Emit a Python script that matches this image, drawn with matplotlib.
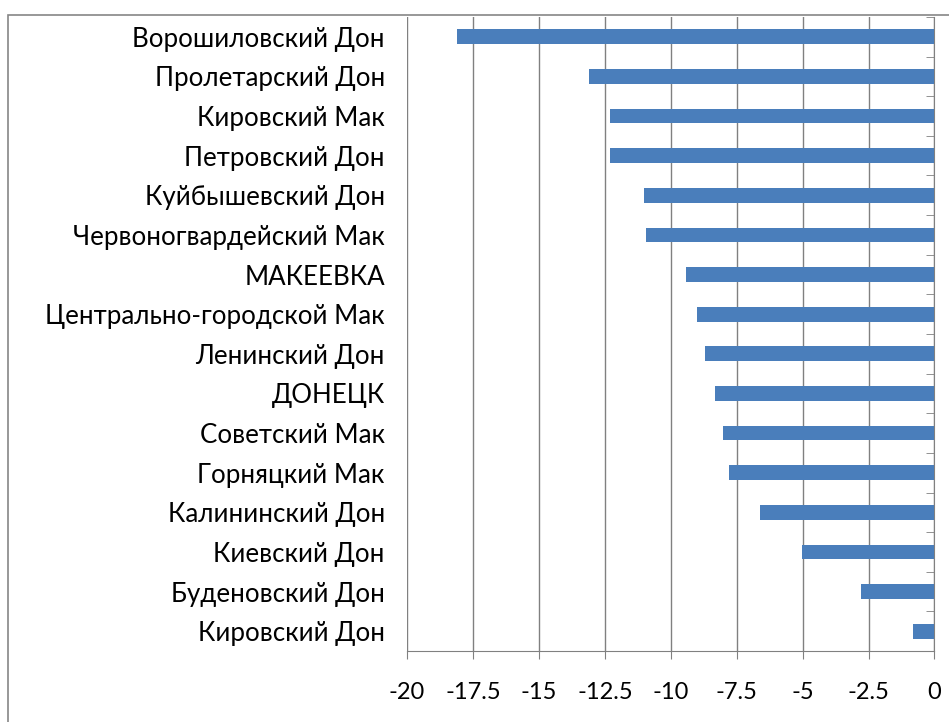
#!/usr/bin/env python3
# -*- coding: utf-8 -*-

import numpy as np
import matplotlib
matplotlib.use('Agg')
from matplotlib import pyplot as plt
from matplotlib.patches import Rectangle

# datos
categorias = [
  'Ворошиловский Дон', 'Пролетарский Дон', 'Кировский Мак', 'Петровский Дон',
  'Куйбышевский Дон', 'Червоногвардейский Мак', 'МАКЕЕВКА',
  'Центрально-городской Мак', 'Ленинский Дон', 'ДОНЕЦК', 'Советский Мак',
  'Горняцкий Мак', 'Калининский Дон', 'Киевский Дон', 'Буденовский Дон',
  'Кировский Дон'
]
valores = [
  -18.12, -13.10, -12.32, -12.32, -11.00, -10.93, -9.41, -9.02, -8.71,
  -8.34, -8.01, -7.80, -6.62, -5.01, -2.79, -0.83
]
xticks = [-20, -17.5, -15, -12.5, -10, -7.5, -5, -2.5, 0]
xtick_labels = ['-20', '-17.5', '-15', '-12.5', '-10', '-7.5', '-5', '-2.5', '0']

plt.rcParams['font.family'] = ['Lato', 'DejaVu Sans']

fig = plt.figure(figsize=(9.49, 7.22), dpi=100)
ax = fig.add_axes([0.4289, 0.0983, 0.9847 - 0.4289, 0.9765 - 0.0983])

y = np.arange(len(categorias))
ax.barh(y, valores, height=0.37, color='#4a7ebb', zorder=3)

ax.set_xlim(-20, 0)
ax.set_ylim(len(categorias) - 0.5, -0.5)
ax.set_xticks(xticks)
ax.set_xticklabels(xtick_labels, fontsize=17)
ax.set_yticks(y)
ax.set_yticklabels(categorias, fontsize=18.6)
ax.xaxis.grid(True, color='#808080', linewidth=1.0, zorder=0)

# marcas de categoria sobre el eje en 0
ax.set_yticks(np.arange(len(categorias) + 1) - 0.5, minor=True)
ax.tick_params(axis='y', which='major', length=0, pad=16)
ax.tick_params(axis='y', which='minor', left=False, right=True,
               direction='in', length=6, color='#808080')
ax.tick_params(axis='x', length=6, color='#808080', pad=16)

for lado in ['top', 'left']:
  ax.spines[lado].set_visible(False)
ax.spines['bottom'].set_color('#808080')
ax.spines['right'].set_color('#808080')

# marco exterior
fig.patches.append(Rectangle((8 / 949, -0.05), 1.2, 1 - 15 / 722 + 0.05,
                             transform=fig.transFigure, fill=False,
                             edgecolor='#868686', linewidth=1.2))

fig.savefig('out.png', dpi=100)
